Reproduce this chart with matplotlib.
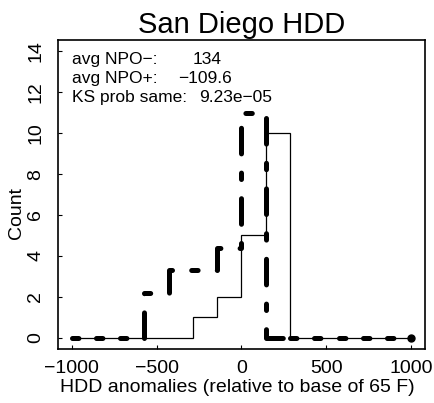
import numpy as np
import matplotlib
matplotlib.use("Agg")
import matplotlib.pyplot as plt

plt.rcParams['font.family'] = ['Liberation Sans', 'DejaVu Sans']

# histogram bin edges (HDD anomaly) and counts per bin
bin_edges = [-1000, -857.1, -714.3, -571.4, -428.6, -285.7, -142.9, 0,
             142.9, 285.7, 428.6, 571.4, 714.3, 857.1, 1000]
npo_minus = [0, 0, 0, 0, 0, 1, 2, 5, 10, 0, 0, 0, 0, 0]          # solid
npo_plus = [0, 0, 0, 2.2, 3.3, 3.3, 4.4, 11, 0, 0, 0, 0, 0, 0]     # thick dot-dash

stat_labels = ["avg NPO\u2212:", "avg NPO+:", "KS prob same:"]
stat_values = ["134", "\u2212109.6", "9.23e\u221205"]
value_x = [193, 178, 199]   # left edge of each value, pixels

x_ticks = [-1000, -500, 0, 500, 1000]
y_ticks = [0, 2, 4, 6, 8, 10, 12, 14]

W, H = 435, 403
fig = plt.figure(figsize=(W / 100, H / 100), dpi=100)
ax = fig.add_axes([58 / W, 1 - 349 / H, (425 - 58) / W, (349 - 40) / H])

edges = np.array(bin_edges)
plus = np.array(npo_plus)

# thin solid histogram
ax.stairs(npo_minus, edges, color='black', lw=0.9)

# thick dot-dash histogram (R lty 4 look)
lw = 3.6
dot_first = (0, (1.28, 3.84, 5.12, 3.84))
dash_first = (0, (5.12, 3.84, 1.28, 3.84))
nz = np.nonzero(plus)[0]
lo, hi = nz[0], nz[-1]
style = dict(color='black', lw=lw, capstyle='round', joinstyle='round')
for i in range(len(plus)):
    if i < lo or i > hi + 1:
        ax.stairs([plus[i]], edges[i:i + 2], linestyle=dot_first, **style)
ax.stairs(plus[lo:hi + 2], edges[lo:hi + 3], baseline=0,
          linestyle=dash_first, **style)
ax.plot([edges[-1]], [plus[-1]], 'o', color='black', ms=5)

ax.set_xlim(-1080, 1080)
ax.set_ylim(-0.56, 14.56)
ax.set_xticks(x_ticks)
ax.set_yticks(y_ticks)
ax.tick_params(direction='in', length=3, width=0.8, labelsize=14)
ax.tick_params(axis='x', pad=8)
ax.tick_params(axis='y', pad=10)
for lab in ax.get_yticklabels():
    lab.set_rotation(90)
    lab.set_va('center')
for s in ax.spines.values():
    s.set_linewidth(1.2)

ax.set_title("San Diego HDD", fontsize=21, pad=5)
fig.text(237.5 / W, 1 - 387 / H, "HDD anomalies (relative to base of 65 F)",
         ha='center', va='center', fontsize=14)
fig.text(17 / W, 1 - 213 / H, "Count", rotation=90,
         ha='center', va='center', fontsize=14)

for k, (lab, val) in enumerate(zip(stat_labels, stat_values)):
    yb = 1 - (64 + 19 * k) / H
    fig.text(72.5 / W, yb, lab, fontsize=12.5, va='baseline')
    fig.text(value_x[k] / W, yb, val, fontsize=12.5, va='baseline')

fig.savefig('out.png', dpi=100)
